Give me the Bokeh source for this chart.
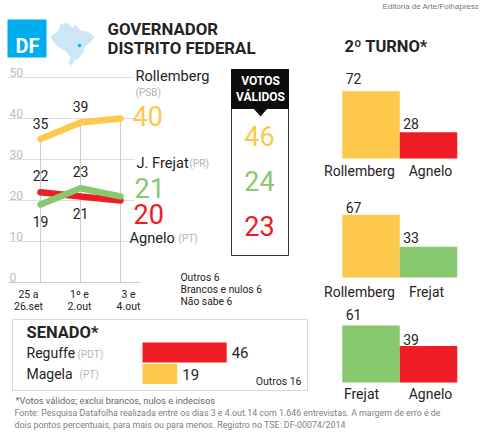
from bokeh.plotting import figure
from bokeh.models import Range1d
from bokeh.core.properties import value
from bokeh.embed import file_html
from bokeh.resources import INLINE

# ---- data
poll_dates = ["25 a|26.set", "1º e|2.out", "3 e|4.out"]
y_ticks = [0, 10, 20, 30, 40, 50]
rollemberg = [35, 39, 40]
agnelo = [22, 21, 20]
frejat = [19, 23, 21]
valid_votes = [46, 24, 23]
runoff_a_names = ["Rollemberg", "Agnelo"]
runoff_a = [72, 28]
runoff_b_names = ["Rollemberg", "Frejat"]
runoff_b = [67, 33]
runoff_c_names = ["Frejat", "Agnelo"]
runoff_c = [61, 39]
senate_names = ["Reguffe", "Magela"]
senate = [46, 19]

YELLOW, RED, GREEN, BLUE = "#FDC94D", "#EE1C25", "#88C86F", "#00AEEF"
INK, GREY, TICK, RULE = "#262324", "#B4B4B4", "#BDBDBD", "#DDDDDD"

W, H = 478, 436
p = figure(width=W, height=H, output_backend="svg", toolbar_location=None,
           x_axis_location=None, y_axis_location=None, min_border=0,
           x_range=Range1d((0 - 40) / 40, (W - 40) / 40),
           y_range=Range1d((282 - H) / 4.1, 282 / 4.1))
p.grid.visible = False
p.outline_line_color = None
p.background_fill_color = "white"

# page pixel frame for annotations
p.extra_x_ranges["px"] = Range1d(0, W)
p.extra_y_ranges["py"] = Range1d(H, 0)
# bar panels
p.extra_x_ranges["bars"] = Range1d((0 - 370.5) / 57.5, (W - 370.5) / 57.5)
p.extra_x_ranges["senate"] = Range1d((0 - 142) / 1.83, (W - 142) / 1.83)
p.extra_y_ranges["senate_y"] = Range1d((H - 352) / 21.5, (0 - 352) / 21.5)


def yr(name, base, scale=0.935):
    p.extra_y_ranges[name] = Range1d((base - H) / scale, base / scale)


def txt(s, x, y, size, color=INK, bold=False, align="left", font="Roboto"):
    p.text([x], [y], text=[s], x_range_name="px", y_range_name="py",
           text_font=value(font), text_font_size=f"{size}px",
           text_font_style="bold" if bold else "normal",
           text_color=color, text_align=align, text_baseline="middle")


# ---- header
txt("Editoria de Arte/Folhapress", 382, 6, 8, "#777777", font="Liberation Sans")
p.quad([7], [46], [57], [19], x_range_name="px", y_range_name="py",
       fill_color=BLUE, line_color=None)
txt("DF", 15, 45, 20, "white", True)
map_x = [50, 54, 58, 60, 66, 70, 72, 75, 80, 86, 90, 94, 90, 84, 83, 78, 74, 71, 68, 70, 65, 60, 55, 52]
map_y = [36, 33, 30, 24, 22, 25, 27, 24, 30, 31, 33, 36, 42, 46, 52, 58, 60, 65, 62, 57, 50, 48, 44, 40]
p.patch(map_x, map_y, x_range_name="px", y_range_name="py", fill_color="#CBE6F7", line_color=None)
p.scatter([79], [45], size=2.5, x_range_name="px", y_range_name="py", color=BLUE)
txt("GOVERNADOR", 107, 28, 16.8, bold=True)
txt("DISTRITO FEDERAL", 107, 47, 16.8, bold=True)

# ---- line chart
xs = [0, 1, 2]
for t in y_ticks:
    if t == 0:
        p.segment([8], [t], [140], [t], x_range_name="px", line_color="#CCCCCC", line_width=1)
    else:
        p.segment([8], [t], [134], [t], x_range_name="px", line_color=RULE, line_width=1)
    p.text([9], [t], text=[str(t)], x_range_name="px", text_font=value("Roboto"),
           text_font_size="12px", text_color=TICK, text_baseline="bottom", y_offset=-1)
tops = [max(v) for v in zip(rollemberg, agnelo, frejat)]
p.segment(xs, [0] * 3, xs, tops, line_color="#CCCCCC", line_width=1)
for series, colour in ((rollemberg, YELLOW), (agnelo, RED), (frejat, GREEN)):
    p.line(xs, series, line_color=colour, line_width=6.5, line_cap="round", line_join="round")

for series, off in ((rollemberg[:2], -16), (agnelo[:1] + frejat[1:2], -17), (frejat[:1] + agnelo[1:2], 17)):
    p.text(xs[:2], series, text=[str(v) for v in series], text_font=value("Roboto"),
           text_font_size="14px", text_color=INK, text_align="center", text_baseline="middle",
           y_offset=off)
for lab, cx in zip(poll_dates, (28, 79, 128)):
    a, b = lab.split("|")
    txt(a, cx, 294, 10.5, align="center")
    txt(b, cx, 306, 10.5, align="center")

txt("Rollemberg", 135, 75, 14.6)
txt("(PSB)", 135, 92, 10, GREY)
txt(str(rollemberg[-1]), 132, 115, 27, YELLOW)
txt("J. Frejat", 136, 162, 14.6)
txt("(PR)", 189, 163, 10, GREY)
txt(str(frejat[-1]), 134, 187, 27, GREEN)
txt(str(agnelo[-1]), 133, 213, 27, RED)
txt("Agnelo", 129, 237, 14.6)
txt("(PT)", 178, 238, 10, GREY)
txt("Outros 6", 180, 277, 10.3)
txt("Brancos e nulos 6", 180, 289, 10.3)
txt("Não sabe 6", 180, 301, 10.3)

# ---- valid votes box
p.quad([231], [288], [255], [69], x_range_name="px", y_range_name="py",
       fill_color="white", line_color="#333333", line_width=1)
p.quad([231], [288], [108], [69], x_range_name="px", y_range_name="py",
       fill_color="#0C0C0C", line_color="#0C0C0C")
p.patch([253, 267, 260], [108, 108, 116], x_range_name="px", y_range_name="py", fill_color="#0C0C0C", line_color=None)
txt("VOTOS", 260, 80, 12, "white", True, "center")
txt("VÁLIDOS", 260, 96, 12, "white", True, "center")
for v, c, y in zip(valid_votes, (YELLOW, GREEN, RED), (135, 180, 225)):
    txt(str(v), 259, y, 27, c, False, "center")

# ---- runoff panels
txt("2º TURNO*", 344, 46, 16.5, bold=True)
panels = [
    ("a", runoff_a_names, runoff_a, 158, (YELLOW, RED), (359, 430), 170, (-7, -3)),
    ("b", runoff_b_names, runoff_b, 277, (YELLOW, GREEN), (359, 426), 291, (-2, -4)),
    ("c", runoff_c_names, runoff_c, 382, (GREEN, RED), (361, 430), 393, (-5, -1)),
]
for key, names, vals, base, cols, lab_x, lab_y, offs in panels:
    yr(key, base)
    p.vbar([0, 1], top=vals, bottom=0, width=1, x_range_name="bars", y_range_name=key,
           fill_color=list(cols), line_color=None)
    for i, v in enumerate(vals):
        p.text([i - 0.44], [v], text=[str(v)], x_range_name="bars", y_range_name=key,
               text_font=value("Roboto"), text_font_size="14px", text_color=INK,
               text_baseline="bottom", y_offset=offs[i])
    for n, lx in zip(names, lab_x):
        txt(n, lx, lab_y, 14, align="center")

# ---- senate box
p.quad([12], [307], [390], [319], x_range_name="px", y_range_name="py",
       fill_color="white", line_color="#D8D8D8", line_width=1)
txt("SENADO*", 26, 332, 16.5, bold=True)
p.hbar([0, 1], right=senate, left=0, height=0.94, x_range_name="senate", y_range_name="senate_y",
       fill_color=[RED, YELLOW], line_color=None)
p.text(senate, [0, 1], text=[str(v) for v in senate], x_range_name="senate", y_range_name="senate_y",
       text_font=value("Roboto"), text_font_size="15px", text_color=INK,
       text_baseline="middle", x_offset=5)
txt(senate_names[0], 26, 352, 14)
txt("(PDT)", 77, 354, 10, GREY)
txt(senate_names[1], 26, 373, 14)
txt("(PT)", 79, 374, 10, GREY)
txt("Outros 16", 301, 381, 10.5, align="right")

# ---- footer
FOOT = "#808080"
txt("*Votos válidos; exclui brancos, nulos e indecisos", 15, 400, 9.3, "#666666")
txt("Fonte: Pesquisa Datafolha realizada entre os dias 3 e 4.out.14 com 1.646 entrevistas. A margem de erro é de", 14, 412, 8.85, FOOT)
txt("dois pontos percentuais, para mais ou para menos. Registro no TSE: DF-00074/2014", 14, 424, 8.85, FOOT)

open("out.html", "w").write(file_html(p, INLINE))
